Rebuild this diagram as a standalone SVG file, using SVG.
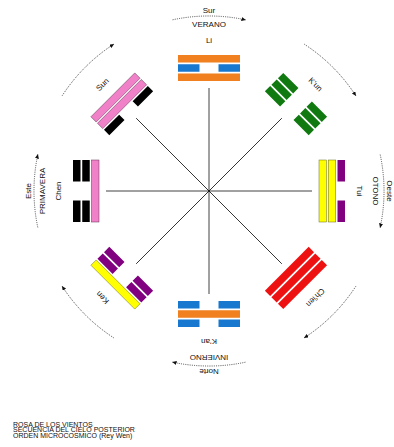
<svg xmlns="http://www.w3.org/2000/svg" xmlns:xlink="http://www.w3.org/1999/xlink" width="394" height="447" viewBox="0 0 394 447">
<style>
text{font-family:"Liberation Sans",Arial,sans-serif;font-size:8px;fill:#111;text-anchor:middle}
.title{font-size:7px;text-anchor:start}
.ray{stroke:#111;stroke-width:0.8;fill:none}
.arc{stroke:#222;stroke-width:0.8;fill:none;stroke-dasharray:1 1.2}
.or{fill:#f08020}
.bl{fill:#1878d0}
.gr{fill:#107a10}
.ye{fill:#ffff00;stroke:#6a6a20;stroke-width:0.5}
.pu{fill:#800080}
.re{fill:#ee1111}
.pk{fill:#f080c8;stroke:#603050;stroke-width:0.5}
.bk{fill:#000}
</style>
<defs>
<marker id="ah" markerWidth="6" markerHeight="6" refX="4" refY="2" orient="auto" markerUnits="userSpaceOnUse">
<path d="M0,0 L4.5,2 L0,4 Z" fill="#111"/>
</marker>
<rect id="s1" x="178" y="55" width="62" height="7.5"/>
<rect id="s2" x="178" y="64.25" width="62" height="7.5"/>
<rect id="s3" x="178" y="73.5" width="62" height="7.5"/>
<path id="b1" d="M178,55h21.5v7.5h-21.5z M218.5,55h21.5v7.5h-21.5z"/>
<path id="b2" d="M178,64.25h21.5v7.5h-21.5z M218.5,64.25h21.5v7.5h-21.5z"/>
<path id="b3" d="M178,73.5h21.5v7.5h-21.5z M218.5,73.5h21.5v7.5h-21.5z"/>
</defs>

<g id="connectors">
<g id="rays">
<line class="ray" x1="209" y1="191" x2="209" y2="88"/>
<line class="ray" x1="209" y1="191" x2="209" y2="88" transform="rotate(45 209 191)"/>
<line class="ray" x1="209" y1="191" x2="209" y2="88" transform="rotate(90 209 191)"/>
<line class="ray" x1="209" y1="191" x2="209" y2="88" transform="rotate(135 209 191)"/>
<line class="ray" x1="209" y1="191" x2="209" y2="88" transform="rotate(180 209 191)"/>
<line class="ray" x1="209" y1="191" x2="209" y2="88" transform="rotate(225 209 191)"/>
<line class="ray" x1="209" y1="191" x2="209" y2="88" transform="rotate(270 209 191)"/>
<line class="ray" x1="209" y1="191" x2="209" y2="88" transform="rotate(315 209 191)"/>
</g>
<g id="arcs">
<path class="arc" d="M172.6,19.8 A175,175 0 0 1 245.4,19.8" marker-end="url(#ah)"/>
<path class="arc" d="M172.6,19.8 A175,175 0 0 1 245.4,19.8" marker-end="url(#ah)" transform="rotate(45 209 191)"/>
<path class="arc" d="M172.6,19.8 A175,175 0 0 1 245.4,19.8" marker-end="url(#ah)" transform="rotate(90 209 191)"/>
<path class="arc" d="M172.6,19.8 A175,175 0 0 1 245.4,19.8" marker-end="url(#ah)" transform="rotate(135 209 191)"/>
<path class="arc" d="M172.6,19.8 A175,175 0 0 1 245.4,19.8" marker-end="url(#ah)" transform="rotate(180 209 191)"/>
<path class="arc" d="M172.6,19.8 A175,175 0 0 1 245.4,19.8" marker-end="url(#ah)" transform="rotate(225 209 191)"/>
<path class="arc" d="M172.6,19.8 A175,175 0 0 1 245.4,19.8" marker-end="url(#ah)" transform="rotate(270 209 191)"/>
<path class="arc" d="M172.6,19.8 A175,175 0 0 1 245.4,19.8" marker-end="url(#ah)" transform="rotate(315 209 191)"/>
</g>
</g>

<g id="li">
<use href="#s1" class="or"/><use href="#b2" class="bl"/><use href="#s3" class="or"/>
<text x="209" y="43">Li</text>
<text x="209" y="27">VERANO</text>
<text x="209" y="13">Sur</text>
</g>

<g id="kun" transform="rotate(45 209 191)">
<use href="#b1" class="gr"/><use href="#b2" class="gr"/><use href="#b3" class="gr"/>
<text x="209" y="43">K'un</text>
</g>

<g id="tui" transform="rotate(90 209 191)">
<use href="#b1" class="pu"/><use href="#s2" class="ye"/><use href="#s3" class="ye"/>
<text x="209" y="43">Tui</text>
<text x="209" y="27">OTONO</text>
<text x="209" y="13">Oeste</text>
</g>

<g id="chien" transform="rotate(135 209 191)">
<use href="#s1" class="re"/><use href="#s2" class="re"/><use href="#s3" class="re"/>
<text x="209" y="43">Ch'ien</text>
</g>

<g id="kan" transform="rotate(180 209 191)">
<use href="#b1" class="bl"/><use href="#s2" class="or"/><use href="#b3" class="bl"/>
<text x="209" y="43">K'an</text>
<text x="209" y="27">INVIERNO</text>
<text x="209" y="13">Norte</text>
</g>

<g id="ken" transform="rotate(225 209 191)">
<use href="#s1" class="ye"/><use href="#b2" class="pu"/><use href="#b3" class="pu"/>
<text x="209" y="43">Ken</text>
</g>

<g id="chen" transform="rotate(270 209 191)">
<use href="#b1" class="bk"/><use href="#b2" class="bk"/><use href="#s3" class="pk"/>
<text x="209" y="43">Chen</text>
<text x="209" y="27">PRIMAVERA</text>
<text x="209" y="13">Este</text>
</g>

<g id="sun" transform="rotate(315 209 191)">
<use href="#s1" class="pk"/><use href="#s2" class="pk"/><use href="#b3" class="bk"/>
<text x="209" y="43">Sun</text>
</g>

<g id="caption">
<text class="title" x="13" y="426.5">ROSA DE LOS VIENTOS</text>
<text class="title" x="13" y="432">SECUENCIA DEL CIELO POSTERIOR</text>
<text class="title" x="13" y="437.5">ORDEN MICROCOSMICO (Rey Wen)</text>
</g>
</svg>
